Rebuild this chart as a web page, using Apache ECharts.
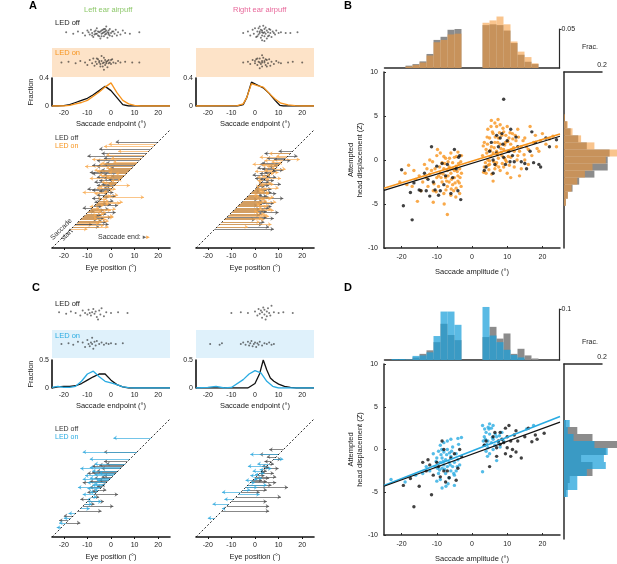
<!DOCTYPE html>
<html>
<head>
<meta charset="utf-8">
<script src="https://cdn.jsdelivr.net/npm/echarts@6/dist/echarts.min.js"></script>
<style>
html, body { margin: 0; padding: 0; background: #fff; }
#main { width: 617px; height: 564px; }
</style>
</head>
<body>
<div id="main"></div>
<script>
// ---- data ----
var tickX = [-20, -10, 0, 10, 20];
var tickY = [-10, -5, 0, 5, 10];
var diagLine = [[-25, -25], [25, 25]];
var binsX = ['-24','-22','-20','-18','-16','-14','-12','-10','-8','-6','-4','-2','0','2','4','6','8','10','12','14','16','18','20','22','24'];
var binsY = ['-9.6','-8.8','-8','-7.2','-6.4','-5.6','-4.8','-4','-3.2','-2.4','-1.6','-0.8','0','0.8','1.6','2.4','3.2','4','4.8','5.6','6.4','7.2','8','8.8','9.6'];

// A: strips of saccade endpoints, [endpoint, jitter]
var stripAL_off = [[-19,0.1],[-16,-0.1],[-14,0.2],[-12,0],[-11,-0.3],[-10,0.3],[-9,-0.2],[-8.5,0.4],[-8,0],[-7.5,-0.5],[-7,0.2],[-6.5,-0.1],[-6,0.6],[-5.5,-0.3],[-5,0.1],[-4.5,-0.7],[-4,0.3],[-3.5,0],[-3,0.5],[-3,-0.4],[-2.5,0.2],[-2,-0.1],[-2,0.8],[-1.5,-0.6],[-1,0.3],[-1,-0.2],[-0.5,0.5],[0,0],[0.5,-0.4],[1,0.2],[1.5,-0.1],[2,0.4],[2.5,-0.3],[3,0.1],[4,-0.2],[5,0.3],[6,0],[8,-0.1],[12,0.1],[-4,-0.1],[-3,0.1],[-2.5,-0.2],[-3.5,0.4],[-1.5,0.1],[-4.5,0.2],[-5,-0.4],[-2,0.3],[-6,-0.1],[-7,-0.2],[-1,0],[-9.5,0.1],[-8,-0.3],[-6.5,0.3],[-5.5,0.2],[-4,-0.4],[-2.5,0.5],[-0.5,-0.3],[0.5,0.2]];
var stripAL_on = [[-21,0],[-18,0.1],[-15,-0.1],[-13,0.2],[-11,0],[-10,-0.3],[-9,0.3],[-8,-0.1],[-7.5,0.5],[-7,-0.4],[-6.5,0.1],[-6,-0.2],[-5.5,0.4],[-5,0],[-4.5,-0.5],[-4,0.2],[-3.5,-0.1],[-3,0.6],[-2.5,-0.3],[-2,0.1],[-1.5,-0.6],[-1,0.3],[-0.5,0],[0,-0.2],[0.5,0.4],[1,0],[2,-0.1],[3,0.2],[4,0],[6,0.1],[9,0],[12,0],[-3,-0.9],[-4,0.8],[-2,-0.1],[-3,0],[-1,-0.1],[-5,0.2],[-6,0.5],[-4.5,-0.2],[-2.5,0.3],[-1.5,0.2],[0,0.3],[-3.5,-0.5]];
var stripAR_off = [[-5,0],[-3,0.2],[-2,-0.3],[-1,0.4],[-0.5,-0.1],[0,0.6],[0.5,-0.5],[1,0.2],[1.5,-0.2],[2,0.8],[2,0],[2.5,-0.6],[3,0.3],[3,-0.3],[3.5,0.9],[3.5,0],[4,-0.4],[4,0.5],[4.5,-0.1],[5,0.3],[5,-0.7],[5.5,0.1],[6,-0.3],[6,0.5],[6.5,0],[7,-0.5],[7.5,0.2],[8,0],[8.5,-0.2],[9,0.3],[10,0],[11,0.1],[13,0],[15,0],[18,0.1],[3,-0.9],[4,-1],[2,0.2],[3,0.1],[4,0.1],[1,-0.4],[2.5,0.4],[5.5,-0.4],[6.5,0.4],[1.5,0.6],[4.5,0.7]];
var stripAR_on = [[-5,0],[-3,0.1],[-2,-0.2],[-1,0.3],[0,-0.1],[0.5,0.4],[1,-0.3],[1.5,0.1],[2,0.5],[2.5,-0.2],[3,0.2],[3,-0.5],[3.5,0.6],[4,0],[4.5,-0.3],[5,0.3],[5.5,-0.1],[6,0.4],[6.5,-0.4],[7,0.1],[8,-0.2],[9,0.2],[10,0],[11,-0.1],[14,0],[16,0.1],[20,0],[3,0.9],[2,-0.7],[2,0],[3,0],[4,0.2],[1,0.5],[4.5,0.4],[5,-0.5],[0,0.2]];

// C: strips
var stripCL_off = [[-22,0.1],[-19,-0.1],[-17,0.2],[-15,0],[-13,-0.3],[-12,0.3],[-11,0],[-10,-0.2],[-9.5,0.4],[-9,0],[-8.5,-0.3],[-8,0.1],[-7.5,0.5],[-7,-0.1],[-6.5,0.2],[-6,-0.5],[-5.5,-0.8],[-5,0.3],[-4.5,-0.2],[-4,0.6],[-3,-0.4],[-2,0.1],[0,0],[3,0.1],[7,0]];
var stripCL_on = [[-21,0],[-18,0.1],[-16,-0.1],[-14,0.3],[-12,0.2],[-11,-0.4],[-10,0.5],[-9.5,0],[-9,-0.3],[-8.5,0.2],[-8,0],[-8,0.8],[-7.5,-0.6],[-7,0.3],[-6.5,-0.2],[-6,0.4],[-5,0],[-4,0.2],[-3,-0.1],[-2,0.1],[-1,0],[0,0.1],[2,0],[5,0.1]];
var stripCR_off = [[-10,0],[-6,0.1],[-3,0],[0,0.2],[1,-0.3],[1.5,0.5],[2,-0.1],[2.5,0.3],[3,-0.6],[3,0.1],[3.5,0.7],[4,-0.2],[4,0.4],[4.5,-0.8],[5,0.2],[5,-0.4],[5.5,0.6],[6,0],[6.5,-0.3],[7,0.9],[8,0.1],[10,0],[12,0.1],[16,0]];
var stripCR_on = [[-19,0],[-15,-0.1],[-14,0.1],[-6,0],[-5,0.2],[-4,-0.1],[-3,0.3],[-2.5,-0.2],[-2,0.1],[-1.5,0.4],[-1,-0.3],[-0.5,0],[0,0.2],[0.5,-0.4],[1,0.1],[1.5,-0.1],[2,0.3],[3,-0.2],[4,0.1],[5,0],[6,0.2],[7,-0.1],[8,0]];

// fraction curves [endpoint, fraction]
var fracAL_off = [[-25,0],[-22.5,0],[-20,0.005],[-17.5,0.02],[-15,0.05],[-12.5,0.08],[-10,0.11],[-7.5,0.16],[-5,0.22],[-2.5,0.28],[0,0.22],[2.5,0.12],[5,0.02],[7.5,0],[25,0]];
var fracAL_on = [[-25,0],[-20,0],[-17.5,0.01],[-15,0.03],[-12.5,0.05],[-10,0.08],[-7.5,0.14],[-5,0.2],[-2.5,0.27],[0,0.33],[2.5,0.19],[5,0.08],[7.5,0.03],[10,0.01],[12.5,0],[25,0]];
var fracAR_off = [[-25,0],[-7.5,0],[-5,0.02],[-3.5,0.12],[-1.5,0.34],[1,0.3],[3.5,0.26],[6,0.18],[8.5,0.08],[10.5,0.01],[12,0],[25,0]];
var fracAR_on = [[-25,0],[-7.5,0.005],[-5,0.03],[-3.5,0.12],[-1.5,0.32],[1,0.29],[3.5,0.27],[6,0.18],[8.5,0.1],[11,0.04],[14,0.015],[17,0.005],[20,0],[25,0]];
var fracCL_off = [[-25,0],[-22.5,0.02],[-20,0.03],[-17.5,0.03],[-15,0.04],[-12.5,0.08],[-10,0.14],[-7.5,0.2],[-5,0.25],[-2.5,0.25],[0,0.14],[2.5,0.06],[5,0.02],[7.5,0],[25,0]];
var fracCL_on = [[-25,0.01],[-22.5,0.03],[-20,0.01],[-17.5,0.01],[-15,0.03],[-12.5,0.12],[-10,0.25],[-7.5,0.3],[-5,0.2],[-2.5,0.12],[0,0.09],[2.5,0.06],[5,0.02],[7.5,0.005],[10,0],[25,0]];
var fracCR_off = [[-25,0],[-3,0],[0,0.08],[2,0.26],[3.5,0.5],[5,0.32],[6.5,0.18],[8,0.12],[10,0.07],[12.5,0.03],[15,0.01],[17.5,0],[25,0]];
var fracCR_on = [[-25,0],[-20,0.01],[-16.5,0.03],[-13,0],[-10,0.01],[-5,0.15],[-2.5,0.25],[0,0.31],[2.5,0.27],[5,0.12],[7.5,0.03],[10,0],[25,0]];

// arrows [saccade start, saccade end]
var arrAL_off = [[20,2],[17,-5],[14,-10],[13,-3],[12,-6],[11,-2],[10,-8],[9,0],[8,-4],[7,-9],[6,-3],[5,-6],[4,-1],[3,-7],[2,-4],[1,-2],[0,-10],[-1,-5],[-2,-3],[-3,2],[-4,-8],[-5,1],[-6,-2],[-7,3],[-8,-12],[-9,-3],[-10,2],[-11,-4],[-12,0],[-13,-6],[-14,-2],[-15,-8],[-16,-5],
  [15,-4],[10.5,-3],[9.5,-6],[8.5,-1],[7.5,-5],[6.5,-8],[5.5,0],[4.5,-3],[3.5,-5],[2.5,-1],[1.5,-6],[0.5,-3],[-0.5,-8],[-1.5,1],[-2.5,-6],[-3.5,-1],[-4.5,-4],[-5.5,-7],[-6.5,0],[-7.5,-4],[-8.5,-1],[-9.5,-7],[-10.5,-2],[-11.5,-5],[-12.5,-3],[-13.5,-4],[-15,-1]];
var arrAL_on = [[19,-1],[16,3],[14.5,-2],[12.5,-8],[11.5,1],[10.5,-5],[9.5,-11],[8.5,-1],[7.5,-6],[6.5,2],[5.5,-4],[4.5,-9],[3.5,0],[2.5,-3],[1.5,8],[0.5,-6],[-0.5,-1],[-1.5,-12],[-2.5,3],[-3.5,14],[-4.5,-2],[-5.5,5],[-6.5,-1],[-7.5,-9],[-8.5,2],[-9.5,-4],[-10.5,-3],[-11.5,1],[-12.5,-6],[-13.5,-1],[-14.5,-5],[-15.5,-3],[-17,-10],
  [18,-3],[13,0],[11,-4],[9,-2],[8,-7],[7,-1],[6,-5],[5,-2],[4,3],[3,-4],[2,-1],[1,-5],[0,2],[-1,-3],[-2,-7],[-3,0],[-4,-4],[-5,-1],[-6,4],[-7,-3],[-8,-5],[-9,0],[-10,-2],[-11,-6],[-12,1],[-13,-2],[-14,-4],[-16,-1]];
var arrAR_off = [[16,10],[14,18],[13,5],[12,15],[11,3],[10,8],[9,1],[8,12],[7,4],[6,-1],[5,9],[4,2],[3,6],[2,11],[1,4],[0,7],[-1,2],[-2,9],[-3,5],[-4,12],[-5,3],[-6,8],[-7,1],[-8,6],[-9,4],[-10,10],[-11,2],[-12,5],[-13,0],[-15,3],[-17,8],
  [15,4],[12.5,8],[10.5,2],[9.5,6],[8.5,3],[7.5,9],[6.5,2],[5.5,5],[4.5,0],[3.5,8],[2.5,3],[1.5,6],[0.5,2],[-0.5,5],[-1.5,7],[-2.5,3],[-3.5,6],[-4.5,1],[-5.5,5],[-6.5,3],[-7.5,7],[-8.5,2],[-9.5,5],[-10.5,3],[-12.5,8],[-14,4],[-16,6]];
var arrAR_on = [[15,6],[13.5,2],[12.5,19],[11.5,7],[10.5,-1],[9.5,5],[8.5,13],[7.5,0],[6.5,8],[5.5,3],[4.5,11],[3.5,1],[2.5,7],[1.5,4],[0.5,10],[-0.5,3],[-1.5,6],[-2.5,1],[-3.5,8],[-4.5,4],[-5.5,9],[-6.5,2],[-7.5,5],[-8.5,7],[-9.5,1],[-10.5,4],[-11.5,6],[-12.5,3],[-14,2],[-16,-3],
  [14,9],[12,4],[11,10],[10,3],[9,7],[8,4],[7,10],[6,5],[5,1],[4,6],[3,3],[2,8],[1,2],[0,5],[-1,4],[-2,6],[-3,2],[-4,7],[-5,5],[-6,3],[-7,6],[-8,3],[-9,8],[-10,2],[-11,5],[-13,4],[-15,7]];
var arrCL_off = [[11,-3],[7,-3],[6,-2],[5,-8],[4,-4],[3,-6],[2,-10],[1,-3],[0,-7],[-1,-5],[-2,-12],[-3,-4],[-4,-9],[-5,-2],[-6,-10],[-7,3],[-8,-5],[-9,-13],[-10,-3],[-11,-7],[-12,1],[-14,-4],[-16,-20],[-18,-22],[-19,-13],[5.5,-5],[2.5,-8],[0.5,-4],[-1.5,-9],[-3.5,-6],[-5.5,-8]];
var arrCL_on = [[17,1],[11,-12],[8,-9],[6,-7],[4,-13],[3,-8],[2,-5],[1,-11],[0,-9],[-1,-6],[-2,-10],[-3,-8],[-4,-14],[-5,-7],[-6,-9],[-7,-12],[-8,-6],[-9,-10],[-10,-4],[-11,-8],[-13,-9],[-15,-18],[-17,-20],[-19,-22],[-21,-23],[4.5,-9],[1.5,-7],[-0.5,-12],[-2.5,-7],[-4.5,-10]];
var arrCR_off = [[12,6],[10,2],[9,5],[8,11],[7,4],[6,8],[5,3],[4,10],[3,5],[2,8],[1,4],[0,6],[-1,3],[-2,9],[-3,7],[-4,14],[-5,5],[-6,2],[-8,11],[-10,5],[-12,6],[-14,6],[4.5,6],[2.5,4],[0.5,9],[-1.5,5]];
var arrCR_on = [[10,-2],[8,12],[6,1],[5,-3],[4,7],[3,-1],[2,4],[1,-2],[0,3],[-1,-4],[-2,0],[-3,5],[-4,1],[-5,-2],[-6,-14],[-7,2],[-9,-13],[-11,-18],[-13,-14],[-17,-20],[3.5,2],[1.5,0],[-0.5,1]];

// B: saccade amplitude vs attempted head displacement
var scatB_on = [[-20.5,-2.5],[-19,-1.5],[-18,-0.6],[-17,-3],[-16,-2.2],[-15.5,-4.7],[-15,-1.8],[-14,-2.5],[-13.5,-0.5],[-13,-2],[-12.5,-3],[-12,0],[-11.5,-1.2],[-11,-3.5],[-11,-4.8],[-10.5,-1],[-10,-2],[-10,0.5],[-9.5,-3],[-9,-1.5],[-9,0.8],[-8.5,-2.5],[-8.5,-0.3],[-8,-1],[-8,-3.8],[-7.5,-2],[-7.5,0.2],[-7,-1.2],[-7,-3],[-7,-6.2],[-6.5,-0.8],[-6.5,-2.5],[-6,-1.5],[-6,0.8],[-6,-4],[-5.5,-0.3],[-5.5,-2.8],[-5,-1.2],[-5,-2],[-5,0.3],[-4.5,-0.7],[-4.5,-3.2],[-4,-1.8],[-4,0.9],[-4,-2.4],[-3.5,-1],[-3.5,-3.8],[-3.2,-0.2],[-3,-1.5],[-3,0.5],[-9.5,-1.8],[-8,0.4],[-7.2,-2.4],[-6.2,-1],[-5.2,-3.5],[-4.2,-1.3],[-3.6,-2.6],[-12,-1.6],[-10.8,-2.7],[-6.8,-0.2],
  [-9.2,-0.8],[-8.8,-2],[-8.2,-1.6],[-7.8,-0.4],[-7.4,-3.4],[-6.8,-1.8],[-6.4,0.2],[-5.8,-2.2],[-5.4,-1],[-4.8,-2.6],[-4.4,0.4],[-3.8,-0.4],[-3.4,-2],[-3.1,-3],[-10.2,-3.6],[-11.2,-0.2],[-12.8,-1],[-14.5,-3.5],[-16.5,-1.2],[-18.5,-2.8],[-5.9,-3.3],[-4.6,-4.2],[-7.9,-5],[-9.8,1.2],
  [3,0.5],[3.5,2],[3.5,-0.8],[4,1.2],[4,-1.5],[4.5,3.5],[4.5,0],[5,2.5],[5,-0.5],[5.5,1.5],[5.5,4.5],[6,-2.4],[6,0.8],[6,3],[6.5,2],[6.5,-1],[7,1],[7,3.8],[7,-0.3],[7.5,2.5],[7.5,0.2],[8,-1.2],[8,1.8],[8,4],[8.5,0.5],[8.5,2.8],[9,1.2],[9,-0.8],[9,3.2],[9.5,0],[9.5,2],[10,1],[10,3.8],[10,-1.5],[10.5,2.5],[11,0.3],[11,1.8],[11.5,3],[12,1],[12,-0.8],[12.5,2.2],[13,0.5],[13,3.5],[14,1.5],[14,-1],[15,2.5],[15,0],[16,1.2],[16.5,3.8],[17,0.5],[18,2.8],[19,1],[20,3],[21,1.8],[23,2.7],[13.5,-1.8],[11,-2],[5,-0.1],[6.5,4.2],[4.2,0.8],[5.2,1.1],[6.2,-0.2],[7.2,0.6],[8.2,1.3],[9.2,0.2],[10.2,2.1],[4.8,-1.1],[7.8,3.1],[11.8,1.4],
  [3.2,1.6],[3.8,-0.3],[4.3,2.6],[4.6,-0.6],[5.3,0.4],[5.8,3.2],[6.3,1.4],[6.8,-0.6],[7.3,2],[7.6,-0.8],[8.3,0.9],[8.8,3.6],[9.3,1.7],[9.8,-0.2],[10.3,0.4],[10.8,3.1],[11.3,1.2],[12.3,2.8],[12.8,0],[13.5,1],[14.5,2.2],[15.5,1.5],[16,-0.5],[17.5,2],[18.5,1.3],[3.3,-1.4],[4.4,1.8],[5.6,-1.6],[6.6,2.6],[8.6,-0.4],[9.6,2.8],[10.6,-0.6],[7.4,4.6],[5.4,3.8],[11.6,2.4],[13.2,2.6],[14.8,0.6],[19.5,2.2],[22,2.4],[24,1.5]];
var scatB_off = [[-20,-1.1],[-19.5,-5.2],[-17.5,-3.7],[-17,-6.8],[-16.5,-2.6],[-15,-3.4],[-14.5,-3.5],[-13.5,-1.5],[-13,-3.5],[-12,-4.1],[-11.5,1.5],[-11,-2.5],[-10,-0.7],[-9.5,-4],[-9,-3.5],[-8,-2.8],[-7.5,-1.8],[-7,-0.5],[-6,-3.8],[-5.5,-2],[-5,1.2],[-4.5,-1],[-4,-3.5],[-3.5,0.5],[-3.2,-4.5],[-10.5,-3.4],[-12.5,-2.2],[-8.5,-0.4],[-3.8,0.3],
  [3.5,-1.2],[4,-0.8],[5,1],[5.5,2],[6,0],[6.5,-0.5],[7,0.8],[7.5,1.5],[8,2.5],[8.5,3],[9,0.3],[9.5,-0.5],[10,2.2],[10.5,1],[11,3.5],[11.5,0.5],[12,-0.2],[13,1.5],[14,-0.2],[15,-0.4],[15.5,-1],[16.5,1],[17,3.2],[17.5,-0.3],[18,2],[19,-0.5],[19.5,-0.8],[21,2.5],[22,1.5],[24,2.3],[9,6.9],[7,2.8],[6,-1.5],[8.8,1.8],[10.8,-0.2],[12.5,2.6]];
var fitB_on = [[-25,-3.2], [25, 2.95]];
var fitB_off = [[-25,-3.45], [25, 2.7]];
var histTopB_off = [0,0,0,0.003,0.005,0.0085,0.018,0.036,0.040,0.049,0.050,0,0,0,0.055,0.056,0.055,0.048,0.032,0.017,0.008,0.005,0,0,0];
var histTopB_on  = [0,0,0,0.002,0.004,0.007,0.016,0.033,0.036,0.043,0.044,0,0,0,0.058,0.061,0.066,0.056,0.034,0.021,0.014,0.006,0,0,0];
var histSideB_off = [0,0,0,0,0,0,0.01,0.02,0.045,0.08,0.16,0.23,0.23,0.24,0.12,0.075,0.035,0.015,0,0,0,0,0,0,0];
var histSideB_on  = [0,0,0,0,0,0,0.01,0.02,0.04,0.07,0.11,0.15,0.22,0.28,0.16,0.09,0.045,0.02,0.005,0,0,0,0,0,0];

// D: same for the blue light condition
var scatD_on = [[-23,-3.5],[-13,-2],[-12,-2.5],[-11,-0.5],[-10.5,-2],[-10,-3.7],[-10,-1],[-9.5,-0.2],[-9.5,-2.8],[-9,-1.5],[-9,0.5],[-9,-3.5],[-8.5,-1],[-8.5,-2.2],[-8.5,-4.5],[-8,-0.3],[-8,-1.8],[-8,0.8],[-7.5,-1.2],[-7.5,-2.8],[-7,0],[-7,-2],[-7,1],[-6.5,-1.5],[-6.5,-3.3],[-6,-0.8],[-6,-2.5],[-6,1.2],[-5.5,-2],[-5.5,0.3],[-5,-1.5],[-5,-4.2],[-5,-3],[-4.5,-0.5],[-4.5,-2.5],[-4,1.3],[-4,-1.2],[-3.5,-1.8],[-3,1.4],[-16,-3],[-14,-2.8],[-19,-3.8],[-8.2,-1.4],[-7.2,-0.6],[-9.2,-2.4],[-6.8,-4],
  [-9.8,-2.2],[-8.8,-0.6],[-7.8,-2.3],[-6.2,-1.8],[-5.8,-0.2],[-4.2,-2],[-3.8,0.6],[-5.2,-2.8],[-10.2,-1.4],[-7.4,-4.3],[-6.4,-0.4],[-8.6,0],
  [3,2.8],[3,-2.6],[3.5,0.5],[3.5,1.5],[4,2],[4,-0.2],[4.5,1],[4.5,0.2],[5,3],[5,1.8],[5,-0.5],[5.5,0.8],[5.5,2.5],[6,0],[6,1.2],[6,2.8],[6.5,0.5],[7,1.5],[7,-1.3],[7.5,0.8],[8,0.3],[4.2,0.6],[3.8,1.2],[8.5,2],[9,1],[17.5,2.8],[15.5,2.4],[3.2,1],[4.8,2.4],[4.6,2.6],[5.8,1.4],[6.6,1.8],[3.6,2.4],[4.4,-0.8],[7.8,1.6]];
var scatD_off = [[-19.5,-4.2],[-17.5,-3.4],[-16.5,-6.7],[-15,-4.3],[-14,-1.5],[-13,-2.5],[-12.5,-1.2],[-11.5,-5.3],[-11,-3],[-10,-1.5],[-9.5,-2],[-9,-3.2],[-8,-2.5],[-8,0],[-7,-2.5],[-6.5,-3.3],[-6,-1],[-5,-0.5],[-4,-2.2],[-3.5,0],[-3,-0.8],[-8.5,1],[-12,-1.8],[-4.5,-3.6],[-7.5,-3.8],
  [3.5,0.5],[4,1],[5,-2],[6,1.5],[6.5,2],[7,0.2],[7.5,1],[8,2],[8,0.6],[8.5,1.2],[9,0.8],[9.5,2.5],[9.5,-0.5],[10,1.5],[10,0.2],[10.5,2.8],[11,1],[11.5,0],[12,1.7],[12.5,2.2],[12.5,-0.3],[13,1],[14,-1],[15,1.5],[16,2.5],[17,0.9],[18,1.7],[18.5,1.2],[20.5,1.9],[11,-0.8],[7,-0.8]];
var fitD_on = [[-25,-4.2], [25, 3.85]];
var fitD_off = [[-25,-4.3], [25, 3.2]];
var histTopD_off = [0,0,0,0.001,0.005,0.012,0.019,0.035,0.071,0.049,0.039,0,0,0,0.045,0.065,0.042,0.052,0.012,0.022,0.009,0.003,0,0,0];
var histTopD_on  = [0,0.002,0.002,0.001,0.008,0.009,0.015,0.047,0.095,0.095,0.069,0,0,0,0.104,0.048,0.035,0.02,0.01,0.005,0,0,0,0,0];
var histSideD_off = [0,0,0,0,0,0,0.01,0.02,0.03,0.15,0.15,0.09,0.22,0.28,0.15,0.07,0.01,0,0,0,0,0,0,0,0];
var histSideD_on  = [0,0,0,0,0,0,0.02,0.07,0.07,0.12,0.22,0.21,0.23,0.16,0.05,0.02,0.03,0,0,0,0,0,0,0,0];

// ---- chart ----
var FONT = '"Liberation Sans", Arial, sans-serif';
var ORANGE = '#F7941D', BLUE = '#29ABE2', GRAY = '#8c8c8c', AXIS = '#2a2a2a';
var lab = { fontFamily: FONT, fontSize: 7, color: '#222' };
var nameStyle = { fontFamily: FONT, fontSize: 7.5, color: '#222' };

var grids = [], xAxes = [], yAxes = [], series = [];

function addGrid(rect, xa, ya) {
    var gi = grids.length;
    grids.push(rect);
    xa.gridIndex = gi;
    ya.gridIndex = gi;
    xAxes.push(xa);
    yAxes.push(ya);
    return gi;
}

function hidden(min, max) {
    return { type: 'value', min: min, max: max, show: false };
}

function strip(left, top, h, half, pts, bg) {
    var gi = addGrid({ left: left, top: top, width: 118, height: h, show: !!bg, backgroundColor: bg || 'transparent', borderWidth: 0 },
        hidden(-25, 25), hidden(-half, half));
    series.push({ type: 'scatter', xAxisIndex: gi, yAxisIndex: gi, data: pts, symbolSize: 2, silent: true,
        itemStyle: { color: '#1a1a1a', opacity: 0.6 } });
}

function frac(left, top, ymax, offLine, onLine, onColor, yName) {
    var gi = addGrid({ left: left, top: top, width: 118, height: 28 },
        { type: 'value', min: -25, max: 25, splitLine: { show: false }, axisLine: { show: false, onZero: false }, axisTick: { show: false },
          axisLabel: Object.assign({ customValues: tickX, margin: 4 }, lab),
          name: 'Saccade endpoint (°)', nameLocation: 'middle', nameGap: 14, nameTextStyle: nameStyle },
        { type: 'value', min: 0, max: ymax, splitLine: { show: false }, axisTick: { show: false },
          axisLine: { show: true, onZero: false, lineStyle: { color: '#111', width: 1.6 } },
          axisLabel: Object.assign({ customValues: [0, ymax], margin: 3 }, lab),
          name: yName, nameLocation: 'middle', nameGap: 11, nameTextStyle: nameStyle });
    series.push({ type: 'line', xAxisIndex: gi, yAxisIndex: gi, data: offLine, symbol: 'none', silent: true,
        lineStyle: { color: '#111', width: 1.3 } });
    series.push({ type: 'line', xAxisIndex: gi, yAxisIndex: gi, data: onLine, symbol: 'none', silent: true,
        lineStyle: { color: onColor, width: 1.3 } });
}

function arrowLines(list) {
    return list.map(function (a) { return { coords: [[a[0], a[0]], [a[1], a[0]]] }; });
}

function arrowPlot(left, top, offList, onList, onColor) {
    var gi = addGrid({ left: left, top: top, width: 118, height: 118 },
        { type: 'value', min: -25, max: 25, splitLine: { show: false },
          axisLine: { show: true, onZero: false, lineStyle: { color: '#111', width: 1.6 } },
          axisTick: { show: true, customValues: tickX, length: 2, lineStyle: { color: '#111' } },
          axisLabel: Object.assign({ customValues: tickX, margin: 5 }, lab),
          name: 'Eye position (°)', nameLocation: 'middle', nameGap: 16, nameTextStyle: nameStyle },
        hidden(-25, 25));
    series.push({ type: 'lines', coordinateSystem: 'cartesian2d', xAxisIndex: gi, yAxisIndex: gi, silent: true,
        data: arrowLines(offList), symbol: ['none', 'arrow'], symbolSize: 3.5,
        lineStyle: { color: '#4d4d4d', width: 0.9, opacity: 0.75 } });
    series.push({ type: 'lines', coordinateSystem: 'cartesian2d', xAxisIndex: gi, yAxisIndex: gi, silent: true,
        data: arrowLines(onList), symbol: ['none', 'arrow'], symbolSize: 3.5,
        lineStyle: { color: onColor, width: 0.9, opacity: 0.75 } });
    series.push({ type: 'line', xAxisIndex: gi, yAxisIndex: gi, data: diagLine, symbol: 'none', silent: true, z: 5,
        lineStyle: { color: '#111', width: 0.9, type: [2, 2] } });
}

function scatterPanel(top, height, offPts, onPts, offFit, onFit, onColor, yLabel) {
    var gi = addGrid({ left: 384, top: top, width: 176, height: height },
        { type: 'value', min: -25, max: 25, splitLine: { show: false },
          axisLine: { show: true, onZero: false, lineStyle: { color: AXIS, width: 1.5 } },
          axisTick: { show: true, inside: true, length: 2, customValues: tickX, lineStyle: { color: AXIS } },
          axisLabel: Object.assign({ customValues: tickX, margin: 6 }, lab),
          name: 'Saccade amplitude (°)', nameLocation: 'middle', nameGap: 20, nameTextStyle: nameStyle },
        { type: 'value', min: -10, max: 10, splitLine: { show: false },
          axisLine: { show: true, onZero: false, lineStyle: { color: AXIS, width: 1.5 } },
          axisTick: { show: true, inside: true, length: 2, customValues: tickY, lineStyle: { color: AXIS } },
          axisLabel: Object.assign({ customValues: tickY, margin: 6 }, lab),
          name: yLabel, nameLocation: 'middle', nameGap: 17, nameTextStyle: Object.assign({ lineHeight: 9 }, nameStyle) });
    series.push({ type: 'scatter', xAxisIndex: gi, yAxisIndex: gi, data: onPts, symbolSize: 3.4, silent: true,
        itemStyle: { color: onColor } });
    series.push({ type: 'scatter', xAxisIndex: gi, yAxisIndex: gi, data: offPts, symbolSize: 3.4, silent: true,
        itemStyle: { color: '#111' } });
    series.push({ type: 'line', xAxisIndex: gi, yAxisIndex: gi, data: onFit, symbol: 'none', silent: true,
        lineStyle: { color: onColor, width: 1.6 } });
    series.push({ type: 'line', xAxisIndex: gi, yAxisIndex: gi, data: offFit, symbol: 'none', silent: true,
        lineStyle: { color: '#111', width: 1.1 } });
}

function topHist(top, height, ymax, offVals, onVals, onFill) {
    var gi = addGrid({ left: 384.5, top: top, width: 175, height: height },
        { type: 'category', data: binsX, axisLabel: { show: false }, axisTick: { show: false },
          axisLine: { show: true, onZero: false, lineStyle: { color: AXIS, width: 1.5 } } },
        { type: 'value', min: 0, max: ymax, position: 'right', splitLine: { show: false },
          axisLine: { show: true, onZero: false, lineStyle: { color: AXIS, width: 1.2 } },
          axisTick: { show: true, customValues: [ymax], length: 2, lineStyle: { color: AXIS } },
          axisLabel: Object.assign({ customValues: [ymax], margin: 2 }, lab) });
    series.push({ type: 'bar', xAxisIndex: gi, yAxisIndex: gi, data: offVals, barCategoryGap: '0%', barGap: '-100%',
        clip: false, silent: true, itemStyle: { color: GRAY } });
    series.push({ type: 'bar', xAxisIndex: gi, yAxisIndex: gi, data: onVals, barCategoryGap: '0%', barGap: '-100%',
        clip: false, silent: true, itemStyle: { color: onFill } });
}

function sideHist(top, height, offVals, onVals, onFill) {
    var gi = addGrid({ left: 564, top: top, width: 38, height: height },
        { type: 'value', min: 0, max: 0.2, position: 'top', splitLine: { show: false },
          axisLine: { show: true, onZero: false, lineStyle: { color: AXIS, width: 1.5 } },
          axisTick: { show: false },
          axisLabel: Object.assign({ customValues: [0.2], margin: 3 }, lab) },
        { type: 'category', data: binsY, axisLabel: { show: false }, axisTick: { show: false },
          axisLine: { show: true, onZero: false, lineStyle: { color: AXIS, width: 1.5 } } });
    series.push({ type: 'bar', xAxisIndex: gi, yAxisIndex: gi, data: offVals, barCategoryGap: '0%', barGap: '-100%',
        clip: false, silent: true, itemStyle: { color: GRAY } });
    series.push({ type: 'bar', xAxisIndex: gi, yAxisIndex: gi, data: onVals, barCategoryGap: '0%', barGap: '-100%',
        clip: false, silent: true, itemStyle: { color: onFill } });
}

var ORANGE_FILL = 'rgba(245,151,55,0.57)';
var BLUE_FILL = 'rgba(26,159,217,0.72)';

// panel A
strip(52, 25, 16, 1, stripAL_off);
strip(196, 25, 16, 1, stripAR_off);
strip(52, 48, 29, 1.8, stripAL_on, '#FDE3C8');
strip(196, 48, 29, 1.8, stripAR_on, '#FDE3C8');
frac(52, 78, 0.4, fracAL_off, fracAL_on, ORANGE, 'Fraction');
frac(196, 78, 0.4, fracAR_off, fracAR_on, ORANGE, '');
arrowPlot(52, 130, arrAL_off, arrAL_on, '#F8A94F');
arrowPlot(196, 130, arrAR_off, arrAR_on, '#F8A94F');

// panel C
strip(52, 305, 16, 1, stripCL_off);
strip(196, 305, 16, 1, stripCR_off);
strip(52, 330, 28, 1.8, stripCL_on, '#DFF1FB');
strip(196, 330, 28, 1.8, stripCR_on, '#DFF1FB');
frac(52, 360, 0.5, fracCL_off, fracCL_on, BLUE, 'Fraction');
frac(196, 360, 0.5, fracCR_off, fracCR_on, BLUE, '');
arrowPlot(52, 419, arrCL_off, arrCL_on, '#2FA8DE');
arrowPlot(196, 419, arrCR_off, arrCR_on, '#2FA8DE');

// panel B
topHist(29, 39, 0.05, histTopB_off, histTopB_on, ORANGE_FILL);
scatterPanel(72, 176, scatB_off, scatB_on, fitB_off, fitB_on, ORANGE, 'Attempted\nhead displacement (Z)');
sideHist(72, 176, histSideB_off, histSideB_on, ORANGE_FILL);

// panel D
topHist(309, 51, 0.1, histTopD_off, histTopD_on, BLUE_FILL);
scatterPanel(364, 175, scatD_off, scatD_on, fitD_off, fitD_on, BLUE, 'Attempted\nhead displacement (Z)');
sideHist(364, 175, histSideD_off, histSideD_on, BLUE_FILL);

function txt(x, y, s, extra) {
    return { type: 'text', left: x, top: y, silent: true,
        style: Object.assign({ text: s, fontFamily: FONT, fontSize: 7.5, fill: '#222' }, extra || {}) };
}

var graphics = [
    txt(29, 0, 'A', { fontSize: 11, fontWeight: 'bold', fill: '#000' }),
    txt(344, 0, 'B', { fontSize: 11, fontWeight: 'bold', fill: '#000' }),
    txt(32, 282, 'C', { fontSize: 11, fontWeight: 'bold', fill: '#000' }),
    txt(344, 282, 'D', { fontSize: 11, fontWeight: 'bold', fill: '#000' }),
    txt(84, 6, 'Left ear airpuff', { fill: '#8DC86A' }),
    txt(233, 6, 'Right ear airpuff', { fill: '#E8679A' }),
    txt(55, 19, 'LED off', { fill: '#222' }),
    txt(55, 49, 'LED on', { fill: ORANGE }),
    txt(55, 135, 'LED off', { fill: '#333', fontSize: 7 }),
    txt(55, 143, 'LED on', { fill: ORANGE, fontSize: 7 }),
    { type: 'text', left: 98, top: 234, silent: true,
      style: { text: '{a|Saccade end: }{g|▸}{o|▸}', fontFamily: FONT, fontSize: 7,
        rich: { a: { fontFamily: FONT, fontSize: 7, fill: '#333' },
                g: { fontFamily: 'DejaVu Sans', fontSize: 7, fill: '#666' },
                o: { fontFamily: 'DejaVu Sans', fontSize: 7, fill: '#F8A94F' } } } },
    { type: 'text', x: 64, y: 232, rotation: Math.PI / 4, silent: true,
      style: { text: 'Saccade\nstart', fontFamily: FONT, fontSize: 7, fill: '#333', align: 'center', verticalAlign: 'middle', lineHeight: 8 } },
    txt(55, 300, 'LED off', { fill: '#222' }),
    txt(55, 332, 'LED on', { fill: BLUE }),
    txt(55, 426, 'LED off', { fill: '#333', fontSize: 7 }),
    txt(55, 434, 'LED on', { fill: BLUE, fontSize: 7 }),
    txt(582, 44, 'Frac.', { fontSize: 7 }),
    txt(582, 339, 'Frac.', { fontSize: 7 })
];

var chart = echarts.init(document.getElementById('main'), null, { renderer: 'canvas' });
chart.setOption({
    animation: false,
    backgroundColor: '#fff',
    grid: grids,
    xAxis: xAxes,
    yAxis: yAxes,
    series: series,
    graphic: graphics
});
</script>
</body>
</html>
